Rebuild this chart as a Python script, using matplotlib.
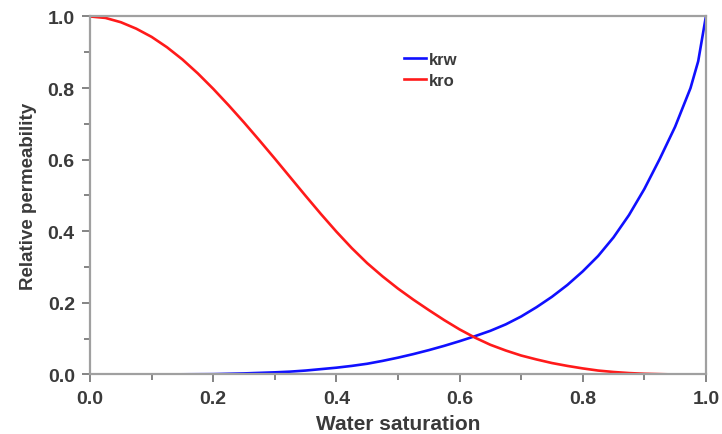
import matplotlib.pyplot as plt
from matplotlib.ticker import MultipleLocator

# relative permeability curves vs water saturation
sw_o = [0.0, 0.025, 0.05, 0.075, 0.10, 0.125, 0.15, 0.175, 0.20, 0.225,
        0.25, 0.275, 0.30, 0.325, 0.35, 0.375, 0.40, 0.425, 0.45, 0.475,
        0.50, 0.525, 0.55, 0.575, 0.60, 0.625, 0.65, 0.675, 0.70, 0.725,
        0.75, 0.775, 0.80, 0.825, 0.85, 0.875, 0.90, 0.925, 0.95, 1.0]
kro = [1.0, 0.996, 0.984, 0.966, 0.943, 0.914, 0.880, 0.841, 0.798, 0.752,
       0.704, 0.654, 0.603, 0.551, 0.499, 0.448, 0.399, 0.353, 0.311, 0.274,
       0.240, 0.209, 0.180, 0.152, 0.126, 0.103, 0.083, 0.067, 0.053, 0.042,
       0.032, 0.024, 0.017, 0.011, 0.007, 0.004, 0.002, 0.001, 0.0, 0.0]

sw_w = [0.0, 0.10, 0.15, 0.20, 0.25, 0.30, 0.325, 0.35, 0.375, 0.40,
        0.425, 0.45, 0.475, 0.50, 0.525, 0.55, 0.575, 0.60, 0.625, 0.65,
        0.675, 0.70, 0.725, 0.75, 0.775, 0.80, 0.825, 0.85, 0.875, 0.90,
        0.925, 0.95, 0.975, 0.9875, 1.0]
krw = [0.0, 0.0, 0.0005, 0.001, 0.003, 0.006, 0.008, 0.011, 0.015, 0.019,
       0.024, 0.030, 0.038, 0.047, 0.057, 0.068, 0.080, 0.093, 0.107, 0.122,
       0.140, 0.162, 0.188, 0.217, 0.250, 0.288, 0.331, 0.383, 0.445, 0.518,
       0.602, 0.692, 0.800, 0.875, 1.0]

text_col = '#3a3a3a'
spine_col = '#a0a0a0'

plt.rcParams['font.family'] = ['Liberation Sans', 'DejaVu Sans']

fig = plt.figure(figsize=(7.22, 4.35), dpi=100)
ax = fig.add_axes([0.1247, 0.1368, 0.853, 0.823])

ax.plot(sw_w, krw, color='#1010ff', lw=1.9, label='krw')
ax.plot(sw_o, kro, color='#ff1a1a', lw=1.9, label='kro')

ax.set_xlim(0, 1)
ax.set_ylim(0, 1)
ax.xaxis.set_major_locator(MultipleLocator(0.2))
ax.xaxis.set_minor_locator(MultipleLocator(0.1))
ax.yaxis.set_major_locator(MultipleLocator(0.2))
ax.yaxis.set_minor_locator(MultipleLocator(0.1))
ax.xaxis.set_major_formatter('{x:.1f}')
ax.yaxis.set_major_formatter('{x:.1f}')

for sp in ax.spines.values():
    sp.set_color(spine_col)
    sp.set_linewidth(1.6)

ax.tick_params(which='both', direction='out', color='#707070', width=1.2,
               top=False, right=False)
ax.tick_params(which='major', length=6, pad=5, labelsize=14, labelcolor=text_col)
ax.tick_params(which='minor', length=4)
for lab in ax.get_xticklabels() + ax.get_yticklabels():
    lab.set_fontweight('bold')

ax.set_xlabel('Water saturation', fontsize=15, fontweight='bold', color=text_col, labelpad=5)
ax.set_ylabel('Relative permeability', fontsize=13.5, fontweight='bold', color=text_col, labelpad=8)

leg = ax.legend(loc='upper left', bbox_to_anchor=(0.497, 0.925), frameon=False,
                handlelength=1.3, handletextpad=0.15, labelspacing=0.35,
                borderpad=0, prop={'size': 12, 'weight': 'bold'})
for t in leg.get_texts():
    t.set_color(text_col)

fig.savefig('out.png', dpi=100)
